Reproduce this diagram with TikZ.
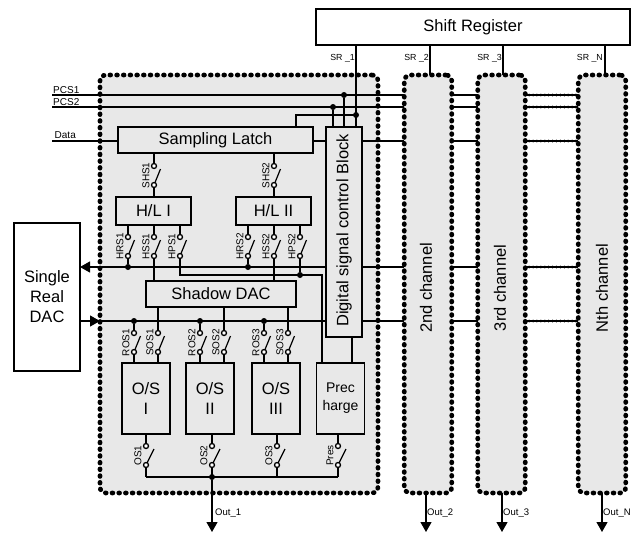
\documentclass[tikz,border=0pt]{standalone}
\usepackage{fontspec}
\setmainfont{Liberation Sans}
\usetikzlibrary{positioning,calc}
\usetikzlibrary{arrows.meta}
\definecolor{ChanGray}{RGB}{232,232,232}
\tikzset{
  wire/.style={draw=black,line width=1.2pt},
  dotwire/.style={draw=black,line width=3pt,line cap=round,dash pattern=on 0pt off 3.9pt},
  arr/.style={wire,-{Triangle[length=10pt,width=11pt]}},
  chan/.style={draw=black,fill=ChanGray,line width=4.7pt,line cap=round,dash pattern=on 0.8pt off 5.9pt,rounded corners=6pt,inner sep=0pt,outer sep=0pt},
  blk/.style={draw=black,line width=1.3pt,inner sep=0pt,outer sep=0pt,align=center,font=\fontsize{16.5}{20}\selectfont},
  txt/.style={inner sep=0pt,outer sep=0pt,align=center,font=\fontsize{16.5}{20}\selectfont},
  cont/.style={circle,draw=black,fill=white,line width=1.3pt,inner sep=0pt,minimum size=5pt,outer sep=0pt},
  dot/.style={circle,fill=black,inner sep=0pt,minimum size=6pt},
  lab/.style={inner sep=0pt,font=\fontsize{10}{12}\selectfont},
  small/.style={inner sep=0pt,font=\fontsize{8.8}{10}\selectfont},
}
\begin{document}
\begin{tikzpicture}[x=1pt,y=-1pt]
\useasboundingbox (0,0) rectangle (642,533);
% dotted channel outlines
\node[chan,minimum width=278pt,minimum height=418pt] (ch1) at (239,284) {};
\foreach \nm/\x in {ch2/428,ch3/501.5,chn/602}{\node[chan,minimum width=47.5pt,minimum height=418pt] (\nm) at (\x,284) {};}
\node[txt,rotate=90] (ch2lab) at (426,288) {2nd channel};
\node[txt,rotate=90] (ch3lab) at (500,288) {3rd channel};
\node[txt,rotate=90] (chnlab) at (602,288) {Nth channel};
% blocks
\node[blk,fill=white,minimum width=314pt,minimum height=36pt] (shift) at (473,27) {Shift Register};
\node[blk,fill=white,minimum width=66pt,minimum height=148pt] (dac) at (47,297) {Single\\Real\\DAC};
\node[blk,minimum width=195pt,minimum height=26pt] (latch) at (215.5,140) {Sampling Latch};
\node[blk,minimum width=36pt,minimum height=210pt] (ctrl) at (344,232) {};
\node[txt,rotate=90] (ctrllab) at (344,230.5) {Digital signal control Block};
\node[blk,minimum width=75pt,minimum height=28pt] (hl1) at (153.5,211) {H/L I};
\node[blk,minimum width=75pt,minimum height=28pt] (hl2) at (273.5,211) {H/L II};
\node[blk,minimum width=150pt,minimum height=26pt] (shadow) at (221,294) {Shadow DAC};
\node[blk,minimum width=48pt,minimum height=71pt] (os1) at (146,398.5) {O/S\\I};
\node[blk,minimum width=48pt,minimum height=71pt] (os2) at (210,398.5) {O/S\\II};
\node[blk,minimum width=48pt,minimum height=71pt] (os3) at (276,398.5) {O/S\\III};
\node[blk,minimum width=48.5pt,minimum height=71pt,font=\fontsize{14}{18}\selectfont] (prec) at (340.5,398.5) {Prec\\harge};
% levels of the horizontal lines
\coordinate (lvA) at (52,95);
\coordinate (lvB) at (52,107);
\coordinate (lvC) at (52,141);
\coordinate (lvD) at (100,267);
\coordinate (lvE) at (100,321);
\coordinate (lvF) at (180,275);
\coordinate (lvG) at (296,115);
\coordinate (lvH) at (146,477);
% switches
\foreach \nm/\x/\y/\w/\t in {shsa/154/166/6.5/SHS1,shsb/274/166/6.5/SHS2,
  hrsa/128/237/6.5/HRS1,hssa/154/237/6.5/HSS1,hpsa/180/237/6.5/HPS1,
  hrsb/248/237/6.5/HRS2,hssb/274/237/6.5/HSS2,hpsb/300/237/6.5/HPS2,
  rosa/134/333/6.5/ROS1,sosa/158/333/6.5/SOS1,rosb/200/333/6.5/ROS2,sosb/224/333/6.5/SOS2,
  rosc/264/333/6.5/ROS3,sosc/288/333/6.5/SOS3,
  osa/146/446/8/OS1,osb/212/446/8/OS2,osc/277/446/8/OS3,pres/338/446/8/Pres}{
  \node[cont] (\nm-t) at (\x,\y) {};
  \node[cont] (\nm-b) at (\x,\y+19) {};
  \draw[wire] (\nm-b) -- ++(\w,-16);
  \node[lab,rotate=90] (\nm-l) at (\x-8,\y+9.5) {\t};
}
% channel select lines
\draw[wire] (shift.south -| 356,0) -- (ctrl.north -| 356,0);
\foreach \nm/\x in {ch2/430,ch3/503,chn/605}{\draw[wire] (shift.south -| \x,0) -- (\nm.north -| \x,0);}
% control lines into block 1
\draw[wire] (lvA) -- (ch2.west |- lvA);
\draw[wire] (lvB) -- (ch2.west |- lvB);
\draw[wire] (lvC) -- (latch.west |- lvC);
\draw[wire] (latch.east |- lvC) -- (ctrl.west |- lvC);
\draw[wire] (ctrl.east |- lvC) -- (ch2.west |- lvC);
\draw[wire] (latch.north -| lvG) -- (lvG) -- (356,115);
\node[dot] (dA) at (344,95) {};
\node[dot] (dB) at (333,107) {};
\node[dot] (dG) at (356,115) {};
\draw[wire] (dA) -- (ctrl.north -| dA);
\draw[wire] (dB) -- (ctrl.north -| dB);
% DAC lines
\draw[arr] (ctrl.west |- lvD) -- (dac.east |- lvD);
\draw[arr] (dac.east |- lvE) -- (lvE);
\draw[wire] (lvE) -- (ctrl.west |- lvE);
\draw[wire] (ctrl.east |- lvD) -- (ch2.west |- lvD);
\draw[wire] (ctrl.east |- lvE) -- (ch2.west |- lvE);
% links between the channels
\foreach \lv in {lvA,lvB,lvC,lvD,lvE}{
  \draw[wire] (ch2.east |- \lv) -- (ch3.west |- \lv);
  \draw[wire] (ch3.east |- \lv) -- (chn.west |- \lv);
  \draw[dotwire] (ch3.east |- \lv) -- (chn.west |- \lv);
}
% sampling and hold switches
\foreach \sw/\up/\dn in {shsa/latch/hl1,shsb/latch/hl2}{
  \draw[wire] (\up.south -| \sw-t) -- (\sw-t);
  \draw[wire] (\sw-b) -- (\dn.north -| \sw-b);
}
\foreach \sw/\up in {hrsa/hl1,hssa/hl1,hpsa/hl1,hrsb/hl2,hssb/hl2,hpsb/hl2}{\draw[wire] (\up.south -| \sw-t) -- (\sw-t);}
\foreach \sw in {hrsa,hrsb}{
  \node[dot] (\sw-d) at (\sw-b |- lvD) {};
  \draw[wire] (\sw-b) -- (\sw-d);
}
\foreach \sw in {hssa,hssb}{\draw[wire] (\sw-b) -- (shadow.north -| \sw-b);}
\draw[wire] (hpsa-b) -- (lvF) -- (322,275) -- (prec.north -| 322,0);
\node[dot] (dF) at (hpsb-b |- lvF) {};
\draw[wire] (hpsb-b) -- (dF);
\draw[wire] (ctrl.south -| 352,0) -- (prec.north -| 352,0);
% offset switches
\foreach \ro/\so/\os in {rosa/sosa/os1,rosb/sosb/os2,rosc/sosc/os3}{
  \node[dot] (\ro-d) at (\ro-t |- lvE) {};
  \draw[wire] (\ro-d) -- (\ro-t);
  \draw[wire] (shadow.south -| \so-t) -- (\so-t);
  \draw[wire] (\ro-b) -- (\os.north -| \ro-b);
  \draw[wire] (\so-b) -- (\os.north -| \so-b);
}
\foreach \sw/\up in {osa/os1,osb/os2,osc/os3,pres/prec}{
  \draw[wire] (\up.south -| \sw-t) -- (\sw-t);
  \draw[wire] (\sw-b) -- (\sw-b |- lvH);
}
\draw[wire] (lvH) -- (pres-b |- lvH);
\node[dot] (dH) at (osb-b |- lvH) {};
% outputs
\coordinate (oa) at (212,532);
\coordinate (ob) at (426,532);
\coordinate (oc) at (502,532);
\coordinate (od) at (602,532);
\draw[arr] (dH) -- (oa);
\draw[arr] (ch2.south -| ob) -- (ob);
\draw[arr] (ch3.south -| oc) -- (oc);
\draw[arr] (chn.south -| od) -- (od);
% labels
\node[lab,anchor=south west] (lbA) at (53,93.5) {PCS1};
\node[lab,anchor=south west] (lbB) at (53,105.5) {PCS2};
\node[lab,anchor=south west] (lbC) at (54.5,139) {Data};
\node[small,anchor=east] (sr1) at (355,58) {SR \_1};
\node[small,anchor=east] (sr2) at (429,58) {SR \_2};
\node[small,anchor=east] (sr3) at (502,58) {SR \_3};
\node[small,anchor=east] (srn) at (603,58) {SR \_N};
\node[lab,anchor=west,font=\fontsize{9.5}{11}\selectfont] (out1) at (215,513) {Out\_1};
\node[lab,anchor=west,font=\fontsize{9.5}{11}\selectfont] (out2) at (427,513) {Out\_2};
\node[lab,anchor=west,font=\fontsize{9.5}{11}\selectfont] (out3) at (503,513) {Out\_3};
\node[lab,anchor=west,font=\fontsize{9.5}{11}\selectfont] (outn) at (603,513) {Out\_N};
\end{tikzpicture}
\end{document}
